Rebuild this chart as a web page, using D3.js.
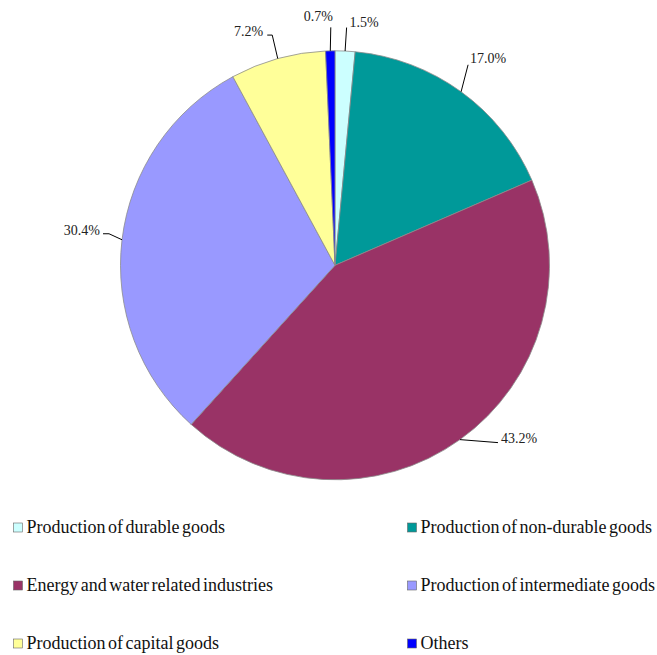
<!DOCTYPE html>
<html>
<head>
<meta charset="utf-8">
<script src="https://cdn.jsdelivr.net/npm/d3@7"></script>
<style>
  html, body { margin: 0; padding: 0; background: #fff; }
  svg { display: block; }
</style>
</head>
<body>
<div id="chart"></div>
<script>
// Share of industry groups (pie, clockwise from 12 o'clock)

const categories = [
    'Production of durable goods',
    'Production of non-durable goods',
    'Energy and water related industries',
    'Production of intermediate goods',
    'Production of capital goods',
    'Others'
];
const shares = [1.5, 17.0, 43.2, 30.4, 7.2, 0.7];
const valueLabels = ['1.5%', '17.0%', '43.2%', '30.4%', '7.2%', '0.7%'];

// order of the legend entries (row by row, two columns)
const legendOrder = [0, 1, 2, 3, 4, 5];

const colors = ['#CCFFFF', '#009999', '#993366', '#9999FF', '#FFFF99', '#0000FF'];

const width = 657;
const height = 655;
const cx = 335, cy = 265.3, radius = 214.5;
const serif = "font-family:'Liberation Serif','Times New Roman',Times,serif";

// leader line shape per slice: elbow offset from the rim point, short tail, text side
const leaders = [
    { dx: 1.5, dy: -23.5, tail: 0, side: 'start', tx: 3, ty: -0.5 },
    { dx: 7, dy: -27, tail: 0, side: 'start', tx: 2, ty: -1.5 },
    { dx: 38, dy: 3, tail: 0, side: 'start', tx: 3, ty: 0.8 },
    { dx: -13, dy: -6, tail: -6, side: 'end', tx: -3, ty: 0.8 },
    { dx: -5.5, dy: -23.5, tail: -5, side: 'end', tx: -4, ty: 1 },
    { dx: 0.5, dy: -23.5, tail: 0, side: 'end', tx: 2, ty: -6 }
];

const svg = d3.select('#chart')
    .append('svg')
    .attr('width', width)
    .attr('height', height);

const g = svg.append('g')
    .attr('transform', `translate(${cx},${cy})`);

const pie = d3.pie()
    .sort(null)
    .value(d => d);

const arcs = pie(shares);

const arc = d3.arc()
    .innerRadius(0)
    .outerRadius(radius);

// slices
g.selectAll('path.slice')
    .data(arcs)
    .enter()
    .append('path')
    .attr('class', 'slice')
    .attr('d', arc)
    .attr('fill', (d, i) => colors[i])
    .attr('stroke', '#8c8c8c')
    .attr('stroke-width', 0.8);

// leader lines + value labels
arcs.forEach((d, i) => {
    const mid = (d.startAngle + d.endAngle) / 2;
    const ex = radius * Math.sin(mid);
    const ey = -radius * Math.cos(mid);
    const L = leaders[i];
    const bx = ex + L.dx, by = ey + L.dy;
    const tx = bx + L.tail;

    g.append('polyline')
        .attr('points', [[ex, ey], [bx, by], [tx, by]].map(p => p.join(',')).join(' '))
        .attr('fill', 'none')
        .attr('stroke', '#000')
        .attr('stroke-width', 1);

    g.append('text')
        .attr('x', tx + L.tx)
        .attr('y', by + L.ty)
        .attr('text-anchor', L.side)
        .attr('style', serif)
        .attr('font-size', '14px')
        .attr('fill', '#222')
        .text(valueLabels[i]);
});

// legend
const legend = svg.append('g');
const colX = [13, 407];
const rowY = [532.5, 590.5, 648.5];

legendOrder.forEach((idx, k) => {
    const col = k % 2;
    const row = Math.floor(k / 2);
    const item = legend.append('g')
        .attr('transform', `translate(${colX[col]},${rowY[row]})`);
    item.append('rect')
        .attr('x', 0.5)
        .attr('y', -9.5)
        .attr('width', 9)
        .attr('height', 9)
        .attr('fill', colors[idx])
        .attr('stroke', '#666')
        .attr('stroke-width', 0.6);
    item.append('text')
        .attr('x', 13.5)
        .attr('y', 0)
        .attr('style', serif + ';word-spacing:-2px')
        .attr('font-size', '18px')
        .attr('fill', '#111')
        .text(categories[idx]);
});
</script>
</body>
</html>
